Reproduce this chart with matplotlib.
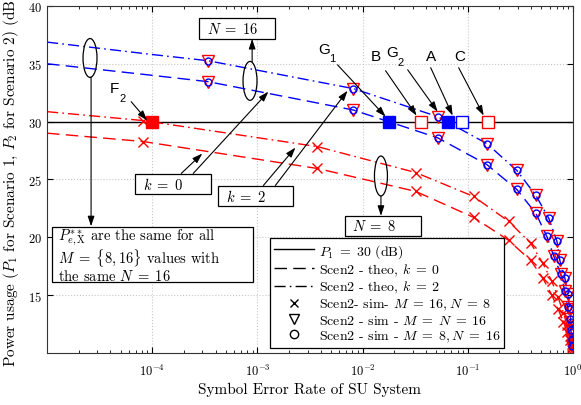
import numpy as np
import matplotlib
matplotlib.use('Agg')
import matplotlib.pyplot as plt
from matplotlib.lines import Line2D
from matplotlib.patches import Ellipse, Rectangle

plt.rcParams['font.family'] = 'serif'
plt.rcParams['font.serif'] = ['cmr10', 'DejaVu Serif']
plt.rcParams['mathtext.fontset'] = 'cm'
plt.rcParams['axes.formatter.use_mathtext'] = True

# ---- data ----
# Scenario 2, N = 16 (blue): theory lines and simulated points
theo_n16_k2_x = [1e-5, 1e-4, 3.41e-4, 8.2e-3, 0.0518, 0.152, 0.293, 0.445, 0.590,
                 0.705, 0.752, 0.839, 0.895, 0.933, 0.955, 0.973, 0.986, 0.995]
theo_n16_k2_y = [36.87, 35.8, 35.26, 32.85, 30.43, 28.1, 25.78, 23.62, 21.64,
                 19.66, 18.0, 16.47, 15.1, 13.8, 12.7, 11.8, 11.1, 10.5]
theo_n16_k0_x = [1e-5, 1e-4, 3.41e-4, 8.2e-3, 0.0518, 0.152, 0.293, 0.445, 0.565,
                 0.659, 0.769, 0.839, 0.891, 0.929, 0.955, 0.977, 0.991]
theo_n16_k0_y = [35.0, 34.0, 33.45, 31.0, 28.6, 26.29, 24.14, 22.07, 20.09,
                 18.36, 16.8, 15.34, 14.0, 12.9, 12.0, 11.2, 10.6]

sim_n16_k2_x = [3.41e-4, 8.2e-3, 0.0518, 0.152, 0.293, 0.445, 0.590, 0.705,
                0.752, 0.839, 0.895, 0.933, 0.955, 0.973, 0.986, 0.993]
sim_n16_k2_y = [35.26, 32.85, 30.43, 28.1, 25.78, 23.62, 21.64, 19.66,
                18.0, 16.47, 15.1, 13.8, 12.7, 11.8, 11.1, 10.6]
sim_n16_k0_x = [3.41e-4, 8.2e-3, 0.0518, 0.152, 0.293, 0.445, 0.565, 0.659,
                0.769, 0.839, 0.891, 0.929, 0.955, 0.977, 0.991]
sim_n16_k0_y = [33.45, 31.0, 28.6, 26.29, 24.14, 22.07, 20.09, 18.36,
                16.8, 15.34, 14.0, 12.9, 12.0, 11.2, 10.6]

# Scenario 2, N = 8 (red)
theo_n8_k2_x = [1e-5, 8.2e-5, 3.72e-3, 0.032, 0.114, 0.245, 0.398, 0.518, 0.631,
                0.724, 0.813, 0.881, 0.933, 0.973, 0.991]
theo_n8_k2_y = [30.86, 30.09, 27.84, 25.6, 23.53, 21.38, 19.48, 17.76, 16.2,
                14.8, 13.5, 12.4, 11.5, 10.8, 10.4]
theo_n8_k0_x = [1e-5, 8.2e-5, 3.72e-3, 0.032, 0.114, 0.245, 0.398, 0.518, 0.631,
                0.724, 0.813, 0.881, 0.933, 0.973, 0.991]
theo_n8_k0_y = [29.0, 28.28, 25.95, 23.97, 21.72, 19.74, 18.0, 16.47, 15.0,
                13.8, 12.7, 11.8, 11.1, 10.6, 10.3]

sim_n8_k2_x = theo_n8_k2_x[1:]
sim_n8_k2_y = theo_n8_k2_y[1:]
sim_n8_k0_x = theo_n8_k0_x[1:]
sim_n8_k0_y = theo_n8_k0_y[1:]

p1_level = 30
# marked operating points on the P1 = 30 dB line
sq_fill_red_x = [1e-4]
sq_fill_blue_x = [0.0178, 0.065]
sq_open_red_x = [0.036, 0.155]
sq_open_blue_x = [0.088]

DASH = (9, 4.5)
DASHDOT = (8, 3, 1.2, 3)


def L(v):
    return 10 ** v


fig = plt.figure(figsize=(5.81, 4.06), dpi=100)
ax = fig.add_axes([0.081, 0.128, 0.905, 0.855])
ax.set_xscale('log')

ax.axhline(p1_level, color='k', lw=1.0, zorder=2)

ax.plot(theo_n16_k2_x, theo_n16_k2_y, color='b', lw=1.0, dashes=DASHDOT)
ax.plot(theo_n16_k0_x, theo_n16_k0_y, color='b', lw=1.0, dashes=DASH)
ax.plot(theo_n8_k2_x, theo_n8_k2_y, color='r', lw=1.0, dashes=DASHDOT)
ax.plot(theo_n8_k0_x, theo_n8_k0_y, color='r', lw=1.0, dashes=DASH)

ax.plot(sim_n8_k2_x, sim_n8_k2_y, 'x', color='r', ms=7, mew=1.0)
ax.plot(sim_n8_k0_x, sim_n8_k0_y, 'x', color='r', ms=7, mew=1.0)
for xs, ys in [(sim_n16_k2_x, sim_n16_k2_y), (sim_n16_k0_x, sim_n16_k0_y)]:
    ax.plot(xs, ys, 'v', mfc='none', mec='r', ms=9, mew=1.0)
    ax.plot(xs, ys, 'o', mfc='none', mec='b', ms=5, mew=1.0)

ax.plot(sq_fill_red_x, [p1_level] * len(sq_fill_red_x), 's', color='r', ms=8)
ax.plot(sq_fill_blue_x, [p1_level] * len(sq_fill_blue_x), 's', color='b', ms=8)
ax.plot(sq_open_red_x, [p1_level] * len(sq_open_red_x), 's', mfc='white', mec='r', ms=8, mew=1.0)
ax.plot(sq_open_blue_x, [p1_level] * len(sq_open_blue_x), 's', mfc='white', mec='b', ms=8, mew=1.0)

ax.set_xlim(1e-5, 1)
ax.set_ylim(10, 40)
ax.set_xticks([1e-4, 1e-3, 1e-2, 1e-1, 1])
ax.set_yticks([15, 20, 25, 30, 35, 40])
ax.tick_params(which='both', direction='in', top=True, right=True, labelsize=9)
ax.tick_params(axis='x', which='major', pad=7)
ax.tick_params(which='major', length=4)
ax.tick_params(which='minor', length=2)
ax.grid(True, which='major', ls=':', color='#c8c8c8', lw=0.8)
for s in ax.spines.values():
    s.set_color('#333333')

ax.set_xlabel('Symbol Error Rate of SU System', fontsize=11, labelpad=3)
ax.set_ylabel(r'Power usage ($P_1$ for Scenario 1, $P_2$ for Scenario 2) (dB)',
              fontsize=11, labelpad=5)

# ---- letter labels with arrows ----
arw = dict(arrowstyle='-|>,head_length=0.6,head_width=0.2', color='k', lw=0.8,
           shrinkA=0, shrinkB=0)


def letter(x, y, s, sub=None):
    t = ax.text(x, y, s, fontsize=11, family='Liberation Sans', ha='center', va='center')
    if sub:
        ax.annotate(sub, xy=(x, y), xytext=(6, -7), textcoords='offset points',
                    fontsize=8, family='Liberation Sans', ha='center', va='center')
    return t


letter(L(-4.36), 32.9, 'F', '2')
letter(L(-2.37), 36.3, 'G', '1')
letter(L(-1.876), 35.7, 'B')
letter(L(-1.72), 36.0, 'G', '2')
letter(L(-1.352), 35.7, 'A')
letter(L(-1.076), 35.7, 'C')

for (x0, y0), (x1, y1) in [((-4.2, 31.72), (-4.048, 30.1)),
                           ((-2.238, 34.91), (-1.781, 30.43)),
                           ((-1.781, 34.40), (-1.486, 30.52)),
                           ((-1.571, 34.48), (-1.286, 30.86)),
                           ((-1.352, 34.66), (-1.143, 30.52)),
                           ((-1.086, 34.66), (-0.848, 30.52)),
                           ((-3.724, 25.52), (-3.524, 27.24)),
                           ((-3.610, 25.52), (-2.895, 32.59)),
                           ((-2.943, 24.48), (-2.638, 27.76)),
                           ((-2.829, 24.48), (-2.143, 32.67))]:
    ax.annotate('', xy=(L(x1), y1), xytext=(L(x0), y0), arrowprops=arw)

# ---- ellipses and boxes (axes fraction) ----
for cx, cy, w, h in [(0.0817, 0.850, 0.0266, 0.112),
                     (0.386, 0.784, 0.0266, 0.112),
                     (0.635, 0.510, 0.0247, 0.115)]:
    ax.add_patch(Ellipse((cx, cy), w, h, transform=ax.transAxes, fill=False,
                         ec='k', lw=0.9, zorder=5))

for (x0, y0), (x1, y1) in [((0.0837, 0.795), (0.0837, 0.365)),
                           ((0.39, 0.839), (0.39, 0.905)),
                           ((0.635, 0.452), (0.635, 0.395))]:
    ax.annotate('', xy=(x1, y1), xytext=(x0, y0), xycoords='axes fraction',
                textcoords='axes fraction', arrowprops=arw)

boxes = [((0.289, 0.905, 0.1445, 0.0605), (0.304, 0.935), r'$N\;=\;16$'),
         ((0.1673, 0.458, 0.1445, 0.0576), (0.1825, 0.487), r'$k\;=\;0$'),
         ((0.325, 0.4236, 0.1426, 0.0576), (0.340, 0.452), r'$k\;=\;2$'),
         ((0.5665, 0.337, 0.1445, 0.0576), (0.58, 0.366), r'$N\;=\;8$'),
         ((0.0095, 0.2046, 0.382, 0.1585), (0.021, 0.284),
          '$P^{**}_{e,\\mathrm{X}}$ are the same for all\n'
          '$M\\;=\\;\\{8, 16\\}$ values with\nthe same $N\\;=\\;16$')]
for (bx, by, bw, bh), (tx, ty), s in boxes:
    ax.add_patch(Rectangle((bx, by), bw, bh, transform=ax.transAxes, fc='white',
                           ec='k', lw=0.9, zorder=6))
    ax.text(tx, ty, s, transform=ax.transAxes, fontsize=10.5, ha='left', va='center',
            zorder=7, linespacing=1.0)

# ---- legend ----
handles = [Line2D([], [], color='k', lw=1.0),
           Line2D([], [], color='k', lw=1.0, dashes=DASH),
           Line2D([], [], color='k', lw=1.0, dashes=DASHDOT),
           Line2D([], [], color='k', ls='none', marker='x', ms=6),
           Line2D([], [], color='k', ls='none', marker='v', mfc='none', ms=7),
           Line2D([], [], color='k', ls='none', marker='o', mfc='none', ms=6)]
labels = [r'$P_1\;=\;30$ (dB)',
          r'Scen2 - theo, $k\;=\;0$',
          r'Scen2 - theo, $k\;=\;2$',
          r'Scen2- sim- $M\;=\;16, N\;=\;8$',
          r'Scen2 - sim - $M\;=\;N\;=\;16$',
          r'Scen2 - sim - $M\;=\;8, N\;=\;16$']
leg = ax.legend(handles, labels, loc='lower left', bbox_to_anchor=(0.424, 0.0144),
                fontsize=10, frameon=True, fancybox=False, framealpha=1,
                edgecolor='k', handlelength=2.9, handletextpad=0.3,
                labelspacing=0.12, borderpad=0.3, borderaxespad=0)
leg.get_frame().set_linewidth(0.9)
leg.set_zorder(8)

fig.savefig('out.png', dpi=100)
